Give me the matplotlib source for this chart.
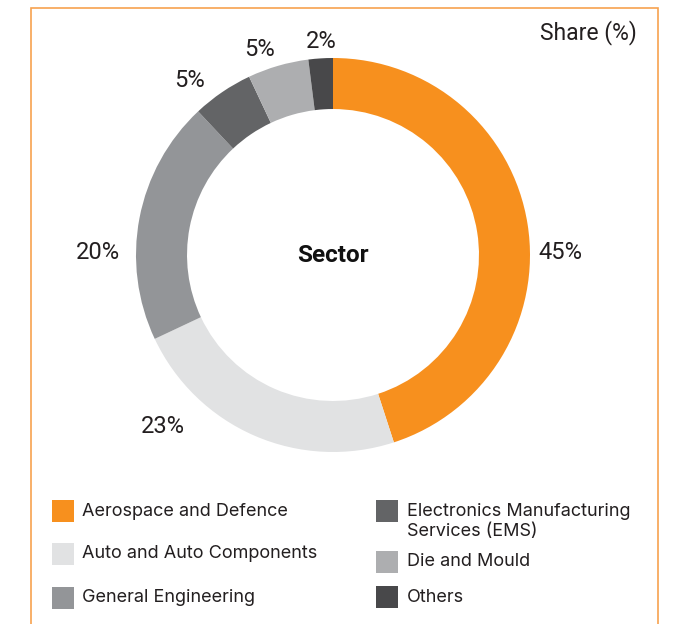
import matplotlib
matplotlib.use('Agg')
import matplotlib.pyplot as plt
from matplotlib.patches import Rectangle

# ---- data ----
sectors = ['Aerospace and Defence', 'Auto and Auto Components', 'General Engineering',
           'Electronics Manufacturing\nServices (EMS)', 'Die and Mould', 'Others']
shares = [45, 23, 20, 5, 5, 2]
colors = ['#F7901E', '#E1E2E3', '#939598', '#636466', '#ADAEB0', '#48484A']
pct_labels = [f'{v}%' for v in shares]
center_label = 'Sector'
title = 'Share (%)'

# ---- layout ----
W, H = 678, 624
plt.rcParams['font.family'] = ['Roboto', 'DejaVu Sans']
fig = plt.figure(figsize=(W / 100, H / 100), dpi=100)

R = 197          # outer radius in px
cx, cy = 333, 255
half = 1.3
ax = fig.add_axes([(cx - half * R) / W, (H - cy - half * R) / H, 2 * half * R / W, 2 * half * R / H])
ax.pie(shares, colors=colors, startangle=90, counterclock=False, radius=1,
       wedgeprops=dict(width=0.259, edgecolor='none', linewidth=0))
ax.set_xlim(-half, half)
ax.set_ylim(-half, half)
ax.set_aspect('equal')
ax.axis('off')

label_pos = [(1.157, 0.015), (-0.863, -0.873), (-1.193, 0.015),
             (-0.726, 0.888), (-0.371, 1.041), (-0.061, 1.086)]
for (x, y), t in zip(label_pos, pct_labels):
    ax.text(x, y, t, ha='center', va='center', fontsize=17, color='#231F20')
ax.text(0, 0, center_label, ha='center', va='center', fontsize=17.5, fontweight='bold', color='#111111')

fig.text(637 / W, 1 - 33 / H, title, ha='right', va='center', fontsize=16.5, color='#231F20')

# frame
fig.add_artist(Rectangle((31 / W, -0.02), (658 - 31) / W, (H - 8) / H + 0.02,
                         transform=fig.transFigure, fill=False, edgecolor='#F7A24F', lw=1.2))

# legend (manual)
patch_x = [52, 52, 52, 376, 376, 376]
text_x = [82, 82, 82, 407, 407, 407]
patch_y = [511, 554, 598, 511, 562, 597]
text_y = [511, 554, 598, 521.5, 562, 597]
sz = 22
for i, name in enumerate(sectors):
    fig.add_artist(Rectangle((patch_x[i] / W, 1 - (patch_y[i] + sz / 2) / H), sz / W, sz / H,
                             transform=fig.transFigure, facecolor=colors[i], edgecolor='none'))
    fig.text(text_x[i] / W, 1 - text_y[i] / H, name, ha='left', va='center', fontsize=13,
             color='#231F20', linespacing=1.2, family=['Inter', 'DejaVu Sans'])

fig.savefig('out.png', dpi=100, facecolor='white')
